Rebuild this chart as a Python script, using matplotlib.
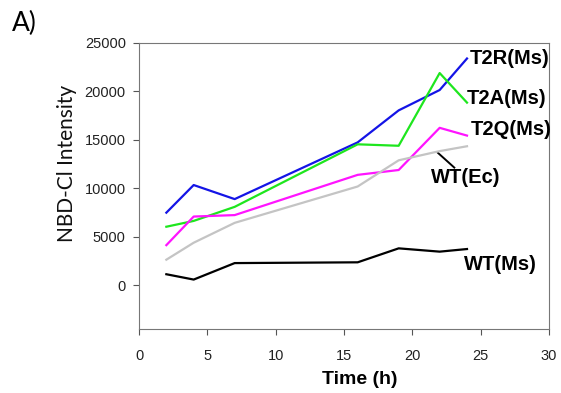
import matplotlib
matplotlib.use("Agg")
import matplotlib.pyplot as plt

plt.rcParams['font.family'] = ['Liberation Sans', 'DejaVu Sans']

time_h = [2, 4, 7, 16, 19, 22, 24]
t2r_ms = [7500, 10350, 8900, 14750, 18050, 20150, 23400]
t2a_ms = [6050, 6650, 8100, 14550, 14400, 21900, 18850]
t2q_ms = [4150, 7100, 7250, 11400, 11900, 16250, 15450]
wt_ec = [2650, 4400, 6450, 10200, 12900, 13850, 14350]
wt_ms = [1150, 600, 2300, 2380, 3820, 3480, 3750]

series_names = ["T2R(Ms)", "T2A(Ms)", "T2Q(Ms)", "WT(Ec)", "WT(Ms)"]
series_colors = ["#1414e6", "#1ee61e", "#ff14ff", "#c4c4c4", "#000000"]
xticks = [0, 5, 10, 15, 20, 25, 30]
yticks = [0, 5000, 10000, 15000, 20000, 25000]

fig = plt.figure(figsize=(5.61, 3.93), dpi=100)
ax = fig.add_axes([0.2478, 0.1628, 0.7308, 0.7278])

data = [t2r_ms, t2a_ms, t2q_ms, wt_ec, wt_ms]
order = [3, 4, 2, 1, 0]
for i in order:
    ax.plot(time_h, data[i], color=series_colors[i], lw=1.6, zorder=2 + i * 0.1)

ax.set_xlim(0, 30)
ax.set_ylim(-4500, 25000)
ax.set_xticks(xticks)
ax.set_yticks(yticks)
ax.tick_params(direction='out', length=4.5, width=0.8, colors='#555555', labelcolor='#222222', labelsize=10.5)
ax.tick_params(axis='y', pad=5)
ax.tick_params(axis='x', pad=10)
for s in ax.spines.values():
    s.set_color('#777777')
    s.set_linewidth(0.8)

ax.set_ylabel("NBD-Cl Intensity", fontsize=15, color='#111111', family=['Lato', 'DejaVu Sans'],
              va='center')
ax.yaxis.set_label_coords(-0.176, 0.58)
ax.set_xlabel("Time (h)", fontsize=14, fontweight='bold', va='center')
ax.xaxis.set_label_coords(0.539, -0.175)

lab_kw = dict(fontsize=14.5, fontweight='bold', va='center', ha='left')
ax.text(24.2, 23450, "T2R(Ms)", **lab_kw)
ax.text(24.0, 19250, "T2A(Ms)", **lab_kw)
ax.text(24.3, 16100, "T2Q(Ms)", **lab_kw)
ax.text(21.4, 11100, "WT(Ec)", **lab_kw)
ax.text(23.8, 2150, "WT(Ms)", **lab_kw)
ax.plot([21.85, 23.07], [13700, 12150], color='black', lw=1.4)

fig.text(0.022, 0.94, "A)", fontsize=19, va='center', ha='left', family=['Lato', 'DejaVu Sans'])

fig.savefig("out.png", dpi=100)
